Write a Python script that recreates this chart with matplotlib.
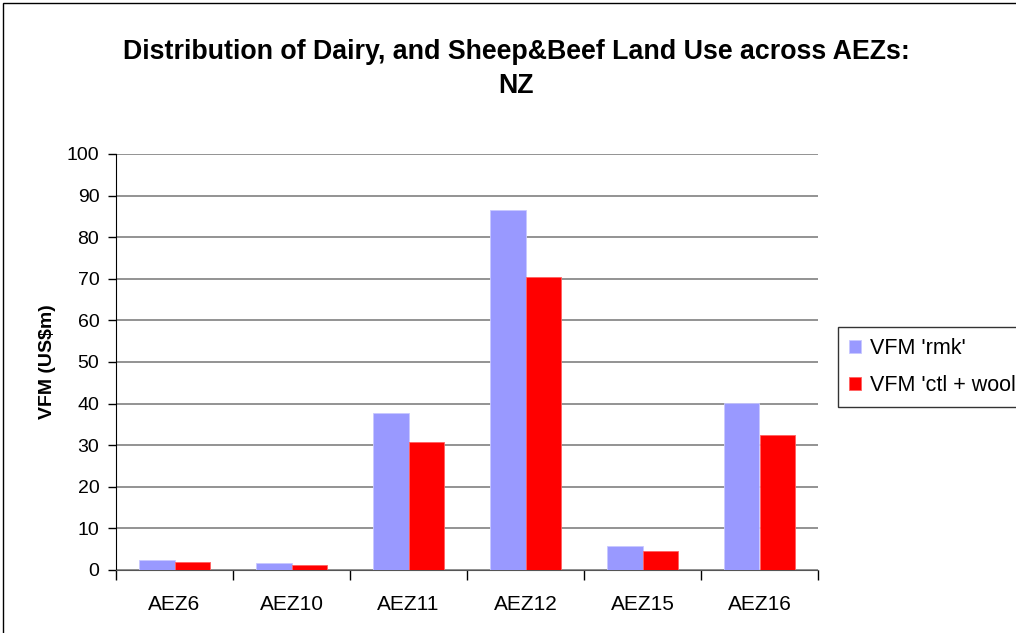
import matplotlib
matplotlib.use("Agg")
import matplotlib.pyplot as plt
import numpy as np
from matplotlib.patches import Rectangle

plt.rcParams['font.family'] = ['Liberation Sans', 'DejaVu Sans']

zones = ["AEZ6", "AEZ10", "AEZ11", "AEZ12", "AEZ15", "AEZ16"]
rmk = [2.4, 1.7, 37.7, 86.5, 5.8, 40.1]
ctl_wool = [2.0, 1.2, 30.8, 70.4, 4.6, 32.4]

W, H = 1016, 633
fig = plt.figure(figsize=(W / 100, H / 100), dpi=100)
# plot area in pixels: x 116..818, y 154..570
ax = fig.add_axes([116 / W, 1 - 570 / H, (818 - 116) / W, (570 - 154) / H])

x = np.arange(len(zones))
bw = 0.3
ax.bar(x - bw / 2, rmk, bw, color="#9999ff", edgecolor="#c8c8ff", linewidth=0.6,
       label="VFM 'rmk'", zorder=3)
ax.bar(x + bw / 2, ctl_wool, bw, color="#ff0000", edgecolor="#ff6060", linewidth=0.6,
       label="VFM 'ctl + wool'", zorder=3)

ax.set_xlim(-0.5, len(zones) - 0.5)
ax.set_ylim(0, 100)
ax.set_yticks(range(0, 101, 10))
ax.yaxis.grid(True, color="#808080", linewidth=1.2, zorder=0)
ax.set_axisbelow(True)

ax.set_xticks(x)
ax.set_xticklabels(zones, fontsize=15)
ax.tick_params(axis="x", which="major", length=0, pad=18)
ax.set_xticks(np.arange(-0.5, len(zones)), minor=True)
ax.tick_params(axis="x", which="minor", length=7, width=1, direction="out")
ax.tick_params(axis="y", labelsize=14, length=6, width=1, pad=6)

for s in ["top", "right"]:
    ax.spines[s].set_visible(False)
ax.spines["left"].set_color("black")
ax.spines["bottom"].set_color("#555555")

ax.set_ylabel("VFM (US$m)", fontsize=14, fontweight="bold", labelpad=8)

fig.text(516 / W, 1 - 52 / H, "Distribution of Dairy, and Sheep&Beef Land Use across AEZs:",
         ha="center", va="center", fontsize=19.3, fontweight="bold")
fig.text(516 / W, 1 - 86 / H, "NZ", ha="center", va="center", fontsize=19.3, fontweight="bold")

leg = ax.legend(loc="upper left", bbox_to_anchor=(838 / W, 1 - 327 / H),
                bbox_transform=fig.transFigure, fontsize=15.5, frameon=True,
                fancybox=False, edgecolor="black", handlelength=0.55, handleheight=0.55,
                handletextpad=0.45, labelspacing=0.75, borderpad=0.5, borderaxespad=0)
leg.get_frame().set_linewidth(1)

fig.patches.append(Rectangle((3 / W, -0.1), 1.2, 1 - 3 / H + 0.1, transform=fig.transFigure,
                             fill=False, edgecolor="black", linewidth=1))

fig.savefig("out.png", dpi=100)
